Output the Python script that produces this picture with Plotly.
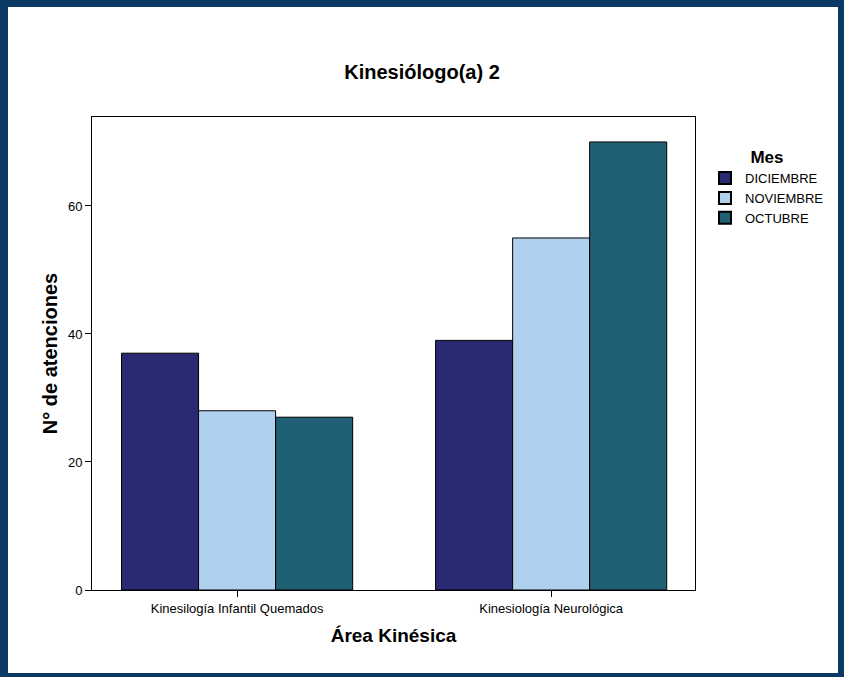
import plotly.graph_objects as go

categories = ["Kinesilogía Infantil Quemados", "Kinesiología Neurológica"]
months = ["DICIEMBRE", "NOVIEMBRE", "OCTUBRE"]
diciembre = [37, 39]
noviembre = [28, 55]
octubre = [27, 70]
series = [diciembre, noviembre, octubre]
colors = ["#2a2a72", "#afd0ee", "#1f6075"]
y_ticks = [0, 20, 40, 60]

W, H = 844, 677
L, R, T, B = 92, 695, 117, 590

fig = go.Figure()
for name, vals, col in zip(months, series, colors):
    fig.add_trace(go.Bar(x=categories, y=vals, name=name, marker_color=col,
                         marker_line_color="black", marker_line_width=1))

def px_x(p):
    return (p - L) / (R - L)

def px_y(p):
    return (B - p) / (B - T)

frame = "#0b3a66"
shapes = [
    dict(type="rect", xref="paper", yref="paper", x0=px_x(0), x1=px_x(8), y0=px_y(677), y1=px_y(0),
         fillcolor=frame, line_width=0),
    dict(type="rect", xref="paper", yref="paper", x0=px_x(0), x1=px_x(844), y0=px_y(7), y1=px_y(0),
         fillcolor=frame, line_width=0),
    dict(type="rect", xref="paper", yref="paper", x0=px_x(838), x1=px_x(844), y0=px_y(677), y1=px_y(0),
         fillcolor=frame, line_width=0),
    dict(type="rect", xref="paper", yref="paper", x0=px_x(0), x1=px_x(844), y0=px_y(677), y1=px_y(673),
         fillcolor=frame, line_width=0),
]

font = "Liberation Sans, Arial, sans-serif"
fig.update_layout(
    width=W, height=H,
    margin=dict(l=L, r=W - R, t=T, b=H - B, autoexpand=False),
    paper_bgcolor="white", plot_bgcolor="white",
    font=dict(family=font, size=13, color="black"),
    title=dict(text="<b>Kinesiólogo(a) 2</b>", x=0.5, xanchor="center", y=1 - 72 / H,
               yanchor="middle", font=dict(size=20, color="black")),
    barmode="group", bargap=0.264, bargroupgap=0,
    showlegend=True,
    legend=dict(x=px_x(705), y=px_y(141), xanchor="left", yanchor="top",
                title=dict(text="<b>Mes</b>", side="top center", font=dict(size=17)),
                font=dict(size=13), itemsizing="constant", tracegroupgap=0,
                bgcolor="rgba(0,0,0,0)"),
    shapes=shapes,
)
fig.update_xaxes(range=[-0.462, 1.458], showline=True, linecolor="black", linewidth=1, mirror=True,
                 ticks="outside", ticklen=6, tickcolor="black", showgrid=False,
                 tickfont=dict(size=13),
                 title=dict(text="<b>Área Kinésica</b>", font=dict(size=19), standoff=14))
fig.update_yaxes(range=[0, 73.9], showline=True, linecolor="black", linewidth=1, mirror=True,
                 ticks="outside", ticklen=6, tickcolor="black", showgrid=False, zeroline=False,
                 tickvals=y_ticks, tickfont=dict(size=13),
                 title=dict(text="<b>N° de atenciones</b>", font=dict(size=20), standoff=4))

fig.write_html("out.html", config={"displayModeBar": False},
               post_script="document.body.style.margin='0px';")
